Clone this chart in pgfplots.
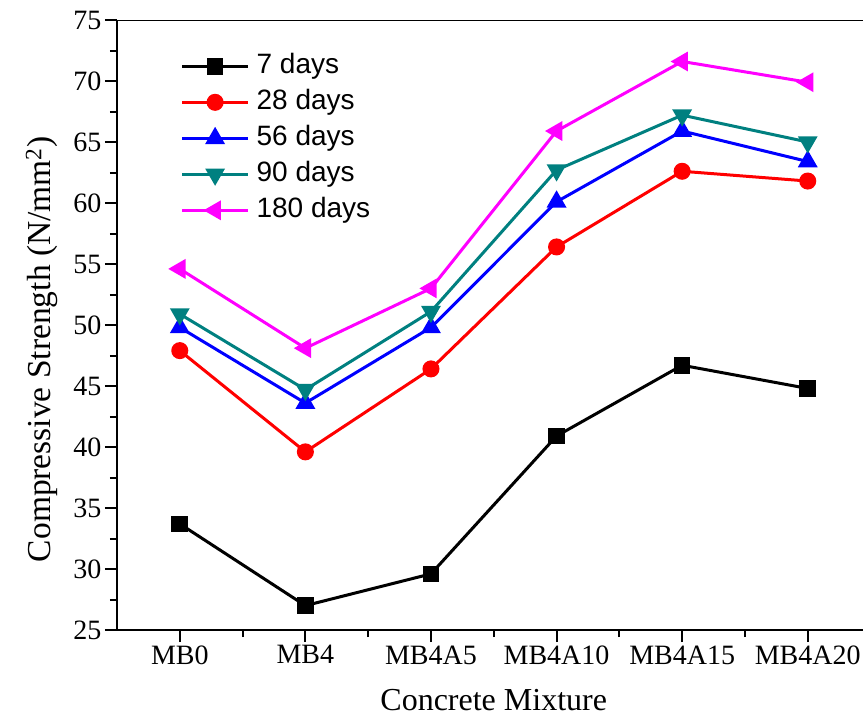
\documentclass[border=0pt]{standalone}
\usepackage{fontspec}
\setmainfont{Liberation Serif}
\newfontfamily\legfont{Liberation Sans}
\usepackage{pgfplots}
\pgfplotsset{compat=1.18}

\definecolor{tealline}{RGB}{0,128,128}
\definecolor{magline}{RGB}{255,0,255}
\definecolor{redline}{RGB}{255,0,0}
\definecolor{blueline}{RGB}{0,0,255}

\begin{document}
\begin{tikzpicture}
\begin{axis}[
  scale only axis, width=746pt, height=610pt,
  xmin=-0.5, xmax=5.44, ymin=25, ymax=75,
  xtick={0,...,5},
  xticklabels={MB0,MB4,MB4A5,MB4A10,MB4A15,MB4A20},
  ytick={25,30,...,75},
  minor x tick num=1, minor y tick num=1,
  axis x line=bottom, axis y line=left,
  axis line style={-, line width=2pt},
  tick align=outside, major tick length=12pt, minor tick length=7pt,
  every tick/.style={black, line width=2pt},
  tick label style={font=\fontsize{28}{28}\selectfont},
  /pgf/number format/assume math mode=true,
  xlabel={Concrete Mixture},
  ylabel={Compressive Strength (N/mm\textsuperscript{2})},
  xlabel style={font=\fontsize{32}{32}\selectfont,
    at={(axis description cs:0.505,-0.115)}, anchor=center},
  ylabel style={font=\fontsize{33.5}{33.5}\selectfont,
    at={(axis description cs:-0.101,0.46)}, anchor=center},
  legend style={draw=none, fill=none, at={(axis description cs:0.085,0.949)},
    anchor=north west, inner sep=0pt,
    font=\legfont\fontsize{28}{28}\selectfont,
    nodes={inner sep=2pt, text height=20pt, text depth=6pt},
    /tikz/every odd column/.append style={column sep=5pt},
    row sep=6pt},
  legend cell align=left,
  legend image code/.code={%
    \draw[mark repeat=2, mark phase=2, #1]
      plot coordinates {(0pt,0pt) (33pt,0pt) (66pt,0pt)};},
]
\addplot[black, line width=3pt, mark=square*, mark size=6.8pt, mark options={solid}]
  coordinates {(0,33.7) (1,27.0) (2,29.6) (3,40.9) (4,46.7) (5,44.8)};
\addlegendentry{7 days}
\addplot[redline, line width=3pt, mark=*, mark size=7pt, mark options={solid}]
  coordinates {(0,47.9) (1,39.6) (2,46.4) (3,56.4) (4,62.6) (5,61.8)};
\addlegendentry{28 days}
\addplot[blueline, line width=3pt, mark=triangle*, mark size=8.5pt, mark options={solid}]
  coordinates {(0,49.8) (1,43.6) (2,49.8) (3,60.1) (4,65.9) (5,63.4)};
\addlegendentry{56 days}
\addplot[tealline, line width=3pt, mark=triangle*, mark size=8.5pt, mark options={solid, rotate=180}]
  coordinates {(0,50.9) (1,44.7) (2,51.1) (3,62.7) (4,67.2) (5,65.0)};
\addlegendentry{90 days}
\addplot[magline, line width=3pt, mark=triangle*, mark size=8.5pt, mark options={solid, rotate=90}]
  coordinates {(0,54.6) (1,48.1) (2,53.0) (3,65.9) (4,71.6) (5,69.9)};
\addlegendentry{180 days}
% top frame line (the right side stays open)
\draw[line width=2pt] (rel axis cs:0,1) -- (rel axis cs:1,1);
\coordinate (O) at (rel axis cs:0,0);
\end{axis}
\pgfresetboundingbox
\path (O) ++(-117pt,-88pt) rectangle ++(863pt,718pt);
\end{tikzpicture}
\end{document}
